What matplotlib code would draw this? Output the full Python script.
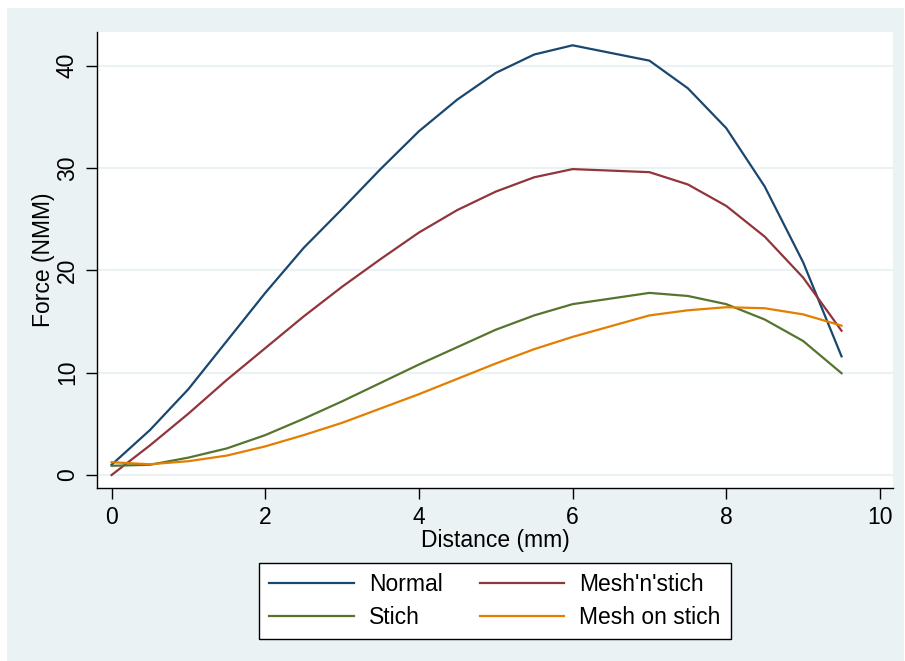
import matplotlib
matplotlib.use("Agg")
import matplotlib.pyplot as plt
from matplotlib.patches import Rectangle

plt.rcParams['font.family'] = ['Liberation Sans', 'DejaVu Sans']

distance = [0, 0.5, 1, 1.5, 2, 2.5, 3, 3.5, 4, 4.5, 5, 5.5, 6, 7, 7.5, 8, 8.5, 9, 9.5]
normal = [1.0, 4.4, 8.4, 13.1, 17.8, 22.2, 26.0, 29.9, 33.6, 36.7, 39.3, 41.1, 42.0, 40.5, 37.8, 33.9, 28.2, 20.8, 11.6]
mesh_n_stich = [0.0, 2.9, 6.0, 9.3, 12.4, 15.5, 18.4, 21.1, 23.7, 25.9, 27.7, 29.1, 29.9, 29.6, 28.4, 26.3, 23.3, 19.3, 14.1]
stich = [0.9, 1.0, 1.7, 2.6, 3.9, 5.5, 7.2, 9.0, 10.8, 12.5, 14.2, 15.6, 16.7, 17.8, 17.5, 16.7, 15.2, 13.1, 9.95]
mesh_on_stich = [1.25, 1.05, 1.35, 1.9, 2.8, 3.9, 5.1, 6.5, 7.9, 9.4, 10.9, 12.3, 13.5, 15.6, 16.1, 16.4, 16.3, 15.7, 14.6]

series_names = ["Normal", "Mesh'n'stich", "Stich", "Mesh on stich"]
series_colors = ["#1a476f", "#90353b", "#55752f", "#e37e00"]

x_ticks = [0, 2, 4, 6, 8, 10]
y_ticks = [0, 10, 20, 30, 40]

FS = 16.5
W, H = 905, 661
fig = plt.figure(figsize=(W / 100, H / 100), dpi=100)
fig.patch.set_facecolor("white")
bg = Rectangle((7 / W, 0), (904 - 7) / W, 1 - 8 / H, transform=fig.transFigure,
               facecolor="#eaf2f3", edgecolor="none", zorder=-10)
fig.patches.append(bg)

ax = fig.add_axes([97 / W, 1 - 488 / H, (893 - 97) / W, (488 - 32) / H])
ax.set_facecolor("white")

lines = {}
for ys, name, col in zip([normal, mesh_n_stich, stich, mesh_on_stich], series_names, series_colors):
    ln, = ax.plot(distance, ys, color=col, lw=1.6, label=name, zorder=3)
    lines[name] = ln

ax.set_xlim(-0.19, 10.17)
ax.set_ylim(-1.27, 43.3)
ax.set_xticks(x_ticks)
ax.set_yticks(y_ticks)
ax.set_xticklabels([str(v) for v in x_ticks])
ax.set_yticklabels([str(v) for v in y_ticks], rotation=90, va="center")
ax.grid(axis="y", color="#eaf2f3", lw=1.5, zorder=0)
ax.set_axisbelow(True)

for s in ["top", "right"]:
    ax.spines[s].set_visible(False)
for s in ["left", "bottom"]:
    ax.spines[s].set_linewidth(1.0)
    ax.spines[s].set_color("black")
ax.tick_params(axis="both", direction="out", length=8, width=1.0, labelsize=FS, colors="black")
ax.tick_params(axis="x", pad=5)
ax.tick_params(axis="y", pad=5)

ax.set_xlabel("Distance (mm)", fontsize=FS, labelpad=0)
ax.set_ylabel("Force (NMM)", fontsize=FS, labelpad=1)

order = ["Normal", "Stich", "Mesh'n'stich", "Mesh on stich"]
leg = fig.legend([lines[n] for n in order], order, ncol=2, loc="center",
                 bbox_to_anchor=(495 / W, 1 - 601 / H), fontsize=FS,
                 frameon=True, fancybox=False, edgecolor="black", facecolor="white",
                 handlelength=3.7, handletextpad=0.65, columnspacing=1.6,
                 borderpad=0.45, labelspacing=0.4, borderaxespad=0)
leg.get_frame().set_linewidth(1.0)
leg.get_frame().set_alpha(1)

fig.savefig("out.png", dpi=100, facecolor=fig.get_facecolor())
